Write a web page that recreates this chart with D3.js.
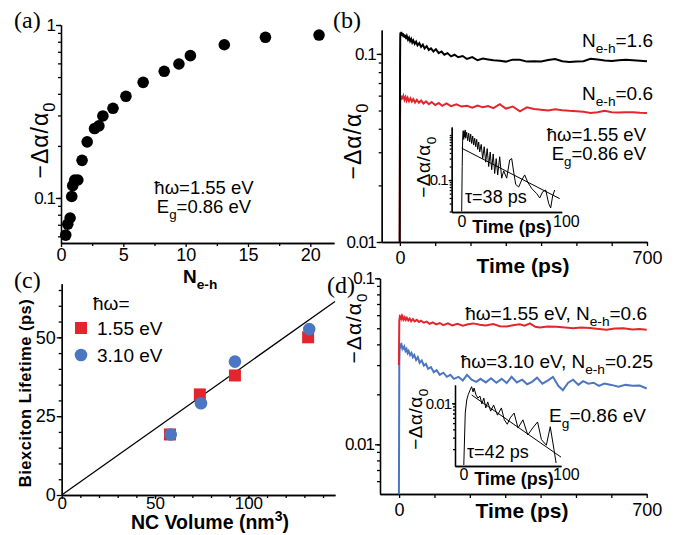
<!DOCTYPE html>
<html>
<head>
<meta charset="utf-8">
<script src="https://cdn.jsdelivr.net/npm/d3@7"></script>
<style>
  body { margin: 0; background: #fff; }
  svg { display: block; }
</style>
</head>
<body>
<div id="chart"></div>
<script>
// ---- data ----

// (a) signal vs N_e-h
var aN   = [0.38, 0.54, 0.73, 0.86, 0.94, 1.1, 1.35, 1.69, 2.1, 2.69, 3.04, 3.36, 4.17, 5.21, 6.59, 8.28, 9.46, 10.38, 13.1, 16.4, 20.7];
var aSig = [0.061, 0.0705, 0.0766, 0.102, 0.118, 0.127, 0.127, 0.165, 0.211, 0.252, 0.261, 0.298, 0.330, 0.387, 0.466, 0.540, 0.595, 0.665, 0.769, 0.849, 0.875];

// (b) traces [time ps, -da/a0]
var bHigh = [[-0.5,0.01],[0,0.03],[0.5,0.09],[1,0.122],[1.5,0.13],[2.5,0.126],[4,0.131],[6,0.125],[8,0.129],[10,0.123],[12,0.127],[14,0.122],[16,0.126],[18,0.12],[20,0.124],[23,0.119],[26,0.122],[29,0.117],[32,0.12],[35,0.115],[38,0.118],[42,0.113],[46,0.116],[50,0.111],[55,0.114],[60,0.109],[65,0.112],[70,0.107],[76,0.11],[82,0.105],[88,0.107],[95,0.103],[102,0.106],[110,0.101],[118,0.103],[126,0.099],[135,0.101],[145,0.097],[155,0.099],[165,0.096],[178,0.0975],[190,0.094],[205,0.0962],[220,0.0925],[235,0.0945],[250,0.0935],[265,0.0925],[283,0.092],[300,0.091],[320,0.0932],[340,0.093],[360,0.091],[380,0.0915],[400,0.0912],[420,0.0928],[440,0.094],[460,0.0915],[480,0.0905],[500,0.091],[520,0.0915],[540,0.0942],[560,0.0935],[580,0.0922],[600,0.0918],[620,0.0925],[640,0.093],[660,0.0925],[680,0.092],[700,0.0915]];
var bLow = [[-0.5,0.01],[0,0.02],[0.5,0.045],[1,0.056],[2,0.059],[4,0.057],[6,0.06],[8,0.0575],[10,0.0595],[13,0.057],[16,0.059],[19,0.0565],[22,0.0585],[26,0.056],[30,0.058],[34,0.0558],[38,0.0575],[43,0.0552],[48,0.057],[54,0.055],[60,0.0565],[67,0.0545],[74,0.056],[82,0.054],[90,0.0555],[100,0.0535],[110,0.0548],[120,0.053],[132,0.0545],[145,0.0528],[160,0.054],[175,0.0525],[190,0.053],[205,0.0518],[220,0.0532],[235,0.052],[250,0.0528],[265,0.0515],[283,0.054],[300,0.0512],[320,0.0525],[340,0.0495],[360,0.052],[380,0.051],[400,0.0505],[420,0.05],[440,0.0508],[460,0.0502],[480,0.0498],[500,0.0495],[520,0.0492],[540,0.0485],[560,0.049],[580,0.0498],[600,0.049],[620,0.0488],[640,0.049],[660,0.049],[680,0.0487],[700,0.0485]];
// (b) inset, biexciton part
var bInset = [[0,0.02],[0.5,0.2],[1,0.9],[1.5,1.25],[2,0.8],[2.5,1.2],[3,0.9],[3.5,1.3],[4,0.85],[5,1.15],[6,0.75],[7,1.1],[8,0.7],[9,1.05],[10,0.65],[11,0.95],[12,0.6],[13,0.85],[14,0.55],[15,0.8],[16,0.48],[17,0.7],[18,0.42],[19.5,0.62],[21,0.3],[22.5,0.55],[24,0.25],[25.5,0.5],[27,0.2],[28.5,0.42],[30,0.17],[31.5,0.38],[33,0.14],[34.5,0.3],[36,0.13],[38,0.33],[40,0.11],[42,0.16],[45,0.11],[48,0.28],[50,0.3],[52,0.15],[54,0.08],[57,0.07],[60,0.1],[63,0.13],[66,0.09],[70,0.065],[75,0.05],[78,0.04],[81,0.055],[84,0.06],[87,0.03],[89,0.024],[91,0.045],[93,0.06]];
var bFitA = 0.51, bTau = 38;

// (c) lifetime vs volume
var cVolRed  = [58, 74, 92.8, 132];
var cLifeRed = [19.2, 31.9, 37.9, 50.0];
var cVolBlue  = [58.4, 74.6, 92.8, 132.6];
var cLifeBlue = [19.2, 29.1, 42.3, 52.6];
var cSlope = 0.419;

// (d) traces
var dRed = [[-0.5,0.03],[0,0.04],[0.5,0.055],[2,0.0585],[4,0.0575],[6,0.059],[8,0.057],[10,0.0588],[13,0.0565],[16,0.0582],[19,0.0562],[22,0.0578],[26,0.0558],[30,0.0572],[34,0.0552],[39,0.0568],[44,0.055],[50,0.0562],[56,0.0545],[62,0.0555],[70,0.054],[78,0.0548],[86,0.0532],[95,0.0542],[105,0.0528],[115,0.0538],[125,0.0522],[138,0.0535],[150,0.052],[165,0.0532],[180,0.0518],[195,0.0528],[210,0.0535],[228,0.0525],[245,0.052],[266,0.053],[285,0.0515],[304,0.0512],[322,0.0522],[341,0.0528],[355,0.0518],[370,0.0535],[385,0.051],[398,0.0505],[420,0.0512],[445,0.051],[470,0.0505],[492,0.05],[515,0.0505],[540,0.0502],[565,0.0495],[587,0.049],[610,0.0498],[634,0.05],[660,0.0492],[680,0.0495],[700,0.049]];
var dBlue = [[-0.5,0.005],[0,0.012],[0.5,0.03],[1.5,0.038],[3,0.0405],[5,0.039],[7,0.0398],[9,0.038],[11,0.0392],[13,0.0372],[15,0.0385],[18,0.0365],[21,0.0375],[24,0.0355],[27,0.0365],[31,0.0345],[35,0.0355],[39,0.0335],[43,0.0345],[48,0.0322],[53,0.0335],[58,0.031],[64,0.032],[70,0.0298],[76,0.0305],[82,0.0285],[90,0.0292],[98,0.0272],[106,0.028],[115,0.0262],[125,0.027],[135,0.0255],[145,0.0262],[155,0.0248],[168,0.0255],[180,0.0242],[192,0.0262],[205,0.0245],[218,0.0238],[230,0.0248],[245,0.0236],[260,0.025],[275,0.0235],[290,0.0248],[304,0.0234],[318,0.0255],[333,0.0236],[348,0.0245],[362,0.023],[376,0.0238],[390,0.0252],[405,0.0232],[420,0.0242],[435,0.0255],[450,0.0225],[463,0.0212],[478,0.0235],[492,0.0245],[507,0.0228],[520,0.024],[535,0.0232],[550,0.0235],[565,0.0225],[580,0.0232],[600,0.0228],[620,0.0222],[640,0.0228],[660,0.0225],[680,0.0226],[700,0.0217]];
var dInset = [[0.5,0.00115],[2,0.0071],[3.5,0.0112],[5,0.0135],[7,0.016],[8.5,0.0179],[10,0.0149],[11,0.0171],[13,0.0134],[15,0.012],[17,0.0129],[19,0.0098],[21,0.012],[23,0.0085],[25,0.0105],[28,0.0076],[31,0.0094],[35,0.0066],[39,0.0085],[42,0.0056],[45,0.0048],[48,0.006],[52,0.0071],[56,0.0042],[61,0.0056],[66,0.0033],[71,0.0042],[76,0.0052],[80,0.0028],[85,0.0023],[89,0.0044],[93,0.0019],[95,0.00123]];
var dFitA = 0.0164, dTau = 42;

var RED = "#e3262d", BLUE = "#4c76c2";
var SANS = "'Liberation Sans', Arial, Helvetica, sans-serif";
var SERIF = "'Liberation Serif', 'Times New Roman', serif";

var svg = d3.select("#chart").append("svg")
  .attr("width", 673)
  .attr("height", 535);

// text with sub/superscripts: parts are strings or {t:.., sub:1} / {t:.., sup:1}
function rich(g, x, y, parts, size, anchor, weight) {
  var t = g.append("text")
    .attr("x", x).attr("y", y)
    .attr("font-family", SANS)
    .attr("font-size", size)
    .attr("font-weight", weight || "normal")
    .attr("text-anchor", anchor || "start");
  var cur = 0;
  parts.forEach(function(p) {
    var s = typeof p === "string" ? {t: p} : p;
    var off = s.sub ? size * 0.3 : (s.sup ? -size * 0.4 : 0);
    t.append("tspan")
      .attr("dy", off - cur)
      .attr("font-size", off ? size * 0.72 : size)
      .text(s.t);
    cur = off;
  });
  return t;
}

function yLabel(x, y, size, parts, weight) {
  var g = svg.append("g").attr("transform", "translate(" + x + "," + y + ") rotate(-90)");
  rich(g, 0, 0, parts, size, "middle", weight).attr("letter-spacing", size > 20 ? 1 : 0.5);
}

var alphaLabel = ["\u2212\u0394\u03b1/\u03b1", {t: "0", sub: 1}];

function logTicks(lo, hi) {
  var out = [];
  for (var e = Math.floor(Math.log10(lo)); e <= Math.ceil(Math.log10(hi)); e++) {
    for (var m = 1; m < 10; m++) {
      var v = m * Math.pow(10, e);
      if (v >= lo * 0.999 && v <= hi * 1.001) out.push(v);
    }
  }
  return out;
}

// axis with minor ticks (no labels) + labelled major ticks
function axis(gen, scale, tx, ty, minor, major, fmt, size, majLen, minLen) {
  var g = svg.append("g").attr("transform", "translate(" + tx + "," + ty + ")");
  g.append("g").call(gen(scale).tickValues(minor).tickFormat("").tickSize(minLen).tickSizeOuter(0));
  g.append("g").call(gen(scale).tickValues(major).tickFormat(fmt).tickSize(majLen).tickSizeOuter(0).tickPadding(1));
  g.selectAll("path, line").attr("stroke", "#000").attr("stroke-width", 1.3);
  g.selectAll("text").attr("font-family", SANS).attr("font-size", size).attr("fill", "#000");
  return g;
}

function panelTag(x, y, s) {
  svg.append("text").attr("x", x).attr("y", y)
    .attr("font-family", SERIF).attr("font-size", 24).text(s);
}

function traceLine(x, y) {
  return d3.line().x(function(d) { return x(d[0]); }).y(function(d) { return y(d[1]); });
}

// ================= (a) =================
var ax = d3.scaleLinear().domain([0, 21.9]).range([61, 334]);
var ay = d3.scaleLog().domain([0.0549, 1]).range([243, 25]);

axis(d3.axisBottom, ax, 0, 243, [2.5, 7.5, 12.5, 17.5], [0, 5, 10, 15, 20], d3.format("d"), 18, 4, 3);
var aya = axis(d3.axisLeft, ay, 61, 0, logTicks(0.0549, 1), [0.1, 1], function(d) { return d === 1 ? "1" : "0.1"; }, 17, 5, 3);
aya.selectAll("text").attr("letter-spacing", -1);

svg.append("g").selectAll("circle")
  .data(aN)
  .enter().append("circle")
  .attr("cx", function(d) { return ax(d); })
  .attr("cy", function(d, i) { return ay(aSig[i]); })
  .attr("r", 5.8)
  .attr("fill", "#000");

rich(svg, 204, 194, ["\u0127\u03c9=1.55 eV"], 18.5, "middle");
rich(svg, 204, 213, ["E", {t: "g", sub: 1}, "=0.86 eV"], 18.5, "middle");
rich(svg, 183, 283, ["N", {t: "e-h", sub: 1}], 19, "start", "bold");
yLabel(48, 140, 23, alphaLabel);
panelTag(14, 28, "(a)");

// ================= (b) =================
var bx = d3.scaleLinear().domain([-51.5, 700]).range([381.7, 647]);
var by = d3.scaleLog().domain([0.01, 0.134]).range([242, 30]);

var bxa = axis(d3.axisBottom, bx, 0, 242, [100, 200, 300, 400, 500, 600], [0, 700], d3.format("d"), 18, 4, 4);
bxa.selectAll("text").attr("dy", "0.95em");
var bya = axis(d3.axisLeft, by, 381.7, 0, logTicks(0.01, 0.134), [0.01, 0.1], function(d) { return d === 0.1 ? "0.1" : "0.01"; }, 17, 5, 3);
bya.selectAll("text").attr("letter-spacing", -1);

svg.append("path").datum(bLow)
  .attr("d", traceLine(bx, by)).attr("fill", "none").attr("stroke", RED).attr("stroke-width", 2);
svg.append("path").datum(bHigh)
  .attr("d", traceLine(bx, by)).attr("fill", "none").attr("stroke", "#000").attr("stroke-width", 2);

rich(svg, 653, 47, ["N", {t: "e-h", sub: 1}, "=1.6"], 19, "end");
rich(svg, 653, 100, ["N", {t: "e-h", sub: 1}, "=0.6"], 19, "end");
rich(svg, 646, 141, ["\u0127\u03c9=1.55 eV"], 18.5, "end");
rich(svg, 646, 160, ["E", {t: "g", sub: 1}, "=0.86 eV"], 18.5, "end");
rich(svg, 523, 273, ["Time (ps)"], 21, "middle", "bold");
yLabel(361, 141, 23, alphaLabel);
panelTag(333, 28, "(b)");

// (b) inset
var bix = d3.scaleLinear().domain([-10, 100]).range([451.7, 561.7]);
var biy = d3.scaleLog().domain([0.0195, 1.51]).range([212, 127]);
axis(d3.axisBottom, bix, 0, 212, [], [], "", 15, 0, 0);
var biya = axis(d3.axisLeft, biy, 451.7, 0, logTicks(0.02, 1.5), [0.1], function() { return "0.1"; }, 15, 3, 2);
biya.selectAll("text").attr("letter-spacing", -1);
svg.append("path").datum(bInset)
  .attr("d", traceLine(bix, biy)).attr("fill", "none").attr("stroke", "#000").attr("stroke-width", 1);
svg.append("path").datum([0, 98])
  .attr("d", d3.line().x(function(t) { return bix(t); }).y(function(t) { return biy(bFitA * Math.exp(-t / bTau)); }))
  .attr("fill", "none").attr("stroke", "#000").attr("stroke-width", 1);
rich(svg, 462, 227, ["0"], 16, "middle");
rich(svg, 553, 227, ["100"], 16, "start");
rich(svg, 512, 233, ["Time (ps)"], 18, "middle", "bold");
rich(svg, 465, 203, ["\u03c4=38 ps"], 18, "start");
yLabel(430, 167, 19, alphaLabel);

// ================= (c) =================
var cx = d3.scaleLinear().domain([0, 146.4]).range([61.7, 335]);
var cy = d3.scaleLinear().domain([0, 67]).range([495, 283.7]);

var cxa = axis(d3.axisBottom, cx, 0, 495, d3.range(10, 141, 10), [0, 50, 100], d3.format("d"), 17, 4, 3);
cxa.selectAll("text").attr("dy", "0.5em");
axis(d3.axisLeft, cy, 61.7, 0, d3.range(5, 66, 5), [0, 25, 50], d3.format("d"), 18, 5, 3);

svg.append("line")
  .attr("x1", cx(0)).attr("y1", cy(0))
  .attr("x2", cx(146.4)).attr("y2", cy(146.4 * cSlope))
  .attr("stroke", "#000").attr("stroke-width", 1.3);

svg.append("g").selectAll("rect")
  .data(cVolRed)
  .enter().append("rect")
  .attr("x", function(d) { return cx(d) - 6; })
  .attr("y", function(d, i) { return cy(cLifeRed[i]) - 6; })
  .attr("width", 12).attr("height", 12)
  .attr("fill", RED);
svg.append("g").selectAll("circle")
  .data(cVolBlue)
  .enter().append("circle")
  .attr("cx", function(d) { return cx(d); })
  .attr("cy", function(d, i) { return cy(cLifeBlue[i]); })
  .attr("r", 6.3)
  .attr("fill", BLUE);

// legend
rich(svg, 93, 310, ["\u0127\u03c9="], 19, "start");
svg.append("rect").attr("x", 75).attr("y", 322).attr("width", 12).attr("height", 12).attr("fill", RED);
rich(svg, 97, 335, ["1.55 eV"], 19, "start");
svg.append("circle").attr("cx", 81).attr("cy", 355).attr("r", 6.3).attr("fill", BLUE);
rich(svg, 97, 362, ["3.10 eV"], 19, "start");

rich(svg, 210, 529, ["NC Volume (nm", {t: "3", sup: 1}, ")"], 19.5, "middle", "bold");
yLabel(31, 393, 16.5, ["Biexciton Lifetime (ps)"], "bold");
panelTag(14, 288, "(c)");

// ================= (d) =================
var dx = d3.scaleLinear().domain([-54, 700]).range([380, 646.7]);
var dy = d3.scaleLog().domain([0.00502, 0.1]).range([494, 278.3]);

var dxa = axis(d3.axisBottom, dx, 0, 494, [100, 200, 300, 400, 500, 600], [0, 700], d3.format("d"), 18, 4, 4);
dxa.selectAll("text").attr("dy", "0.95em");
var dya = axis(d3.axisLeft, dy, 380, 0, logTicks(0.00502, 0.1), [0.01, 0.1], function(d) { return d === 0.1 ? "0.1" : "0.01"; }, 17, 5, 3);
dya.selectAll("text").attr("letter-spacing", -1);

svg.append("path").datum(dBlue)
  .attr("d", traceLine(dx, dy)).attr("fill", "none").attr("stroke", BLUE).attr("stroke-width", 2);
svg.append("path").datum(dRed)
  .attr("d", traceLine(dx, dy)).attr("fill", "none").attr("stroke", RED).attr("stroke-width", 2);

rich(svg, 647, 320, ["\u0127\u03c9=1.55 eV, N", {t: "e-h", sub: 1}, "=0.6"], 19, "end");
rich(svg, 653, 368, ["\u0127\u03c9=3.10 eV, N", {t: "e-h", sub: 1}, "=0.25"], 19, "end");
rich(svg, 646, 422, ["E", {t: "g", sub: 1}, "=0.86 eV"], 19, "end");
rich(svg, 522, 518, ["Time (ps)"], 21, "middle", "bold");
yLabel(361, 328, 21, alphaLabel);
panelTag(327, 293, "(d)");

// (d) inset
var dix = d3.scaleLinear().domain([-8.5, 100]).range([455, 561]);
var diy = d3.scaleLog().domain([0.00111, 0.019]).range([466, 385]);
axis(d3.axisBottom, dix, 0, 466, [], [], "", 15, 0, 0);
var diya = axis(d3.axisLeft, diy, 455, 0, logTicks(0.002, 0.019), [0.01], function() { return "0.01"; }, 15, 3, 2);
diya.selectAll("text").attr("letter-spacing", -1);
svg.append("path").datum(dInset)
  .attr("d", traceLine(dix, diy)).attr("fill", "none").attr("stroke", "#000").attr("stroke-width", 1);
svg.append("path").datum([8.6, 100])
  .attr("d", d3.line().x(function(t) { return dix(t); }).y(function(t) { return diy(dFitA * Math.exp(-t / dTau)); }))
  .attr("fill", "none").attr("stroke", "#000").attr("stroke-width", 1);
rich(svg, 464, 480, ["0"], 16, "middle");
rich(svg, 553, 480, ["100"], 16, "start");
rich(svg, 514, 485, ["Time (ps)"], 18, "middle", "bold");
rich(svg, 467, 458, ["\u03c4=42 ps"], 18, "start");
yLabel(422, 419, 19, alphaLabel);
</script>
</body>
</html>
